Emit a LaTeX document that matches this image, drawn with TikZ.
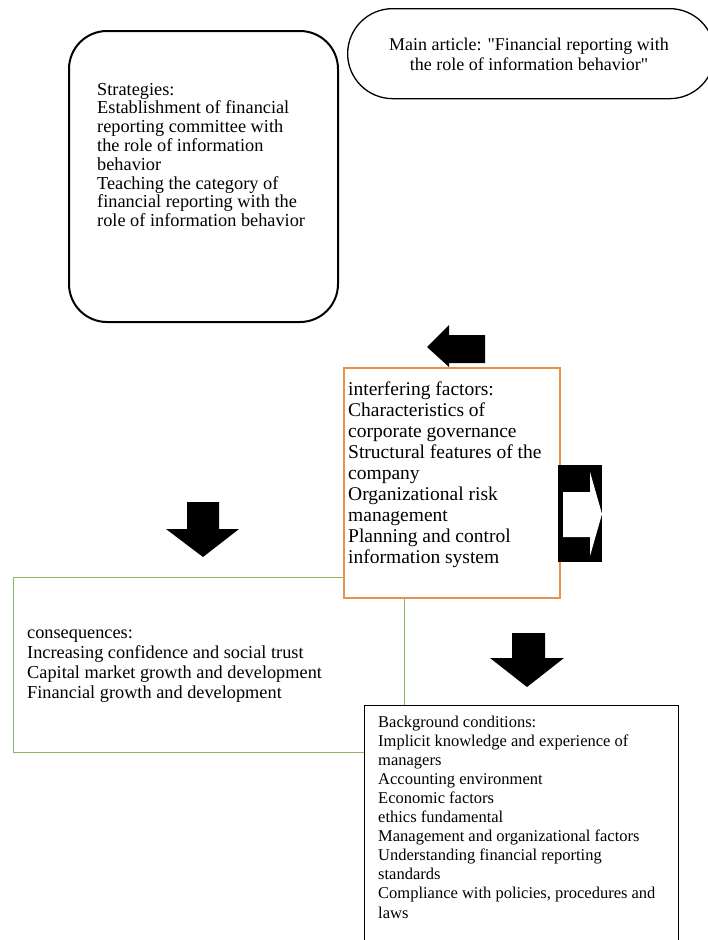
\documentclass[tikz,border=0pt]{standalone}
\usepackage{fontspec}
\setmainfont{Liberation Serif}[Ligatures=TeXOff]
\definecolor{boxorange}{RGB}{232,146,72}
\definecolor{boxgreen}{RGB}{140,180,95}
\tikzset{
  frame/.style={draw, fill=white, inner sep=0pt, anchor=north west},
  txt/.style={inner sep=0pt, align=left, anchor=base west},
  blockarrow/.style={fill=black, draw=none},
}
\begin{document}
\begin{tikzpicture}[x=1pt,y=-1pt]
\useasboundingbox (0,0) rectangle (708,940);
\clip (0,0) rectangle (708,940);
% main article
\node[frame, line width=1.3pt, rounded corners=45pt, minimum width=367pt, minimum height=90pt] (main) at (347,8) {};
\node[inner sep=0pt, align=center, anchor=base, font=\fontsize{18}{20}\selectfont] (maintext) at (529,70)
  {Main article: "Financial reporting with\\the role of information behavior"};
% strategies
\node[frame, line width=2pt, rounded corners=38pt, minimum width=269pt, minimum height=291pt] (strat) at (68,30) {};
\node[txt, font=\fontsize{18.3}{18.8}\selectfont] (strattext) at (97,226.6)
  {Strategies:\\Establishment of financial\\reporting committee with\\the role of information\\behavior\\Teaching the category of\\financial reporting with the\\role of information behavior};
% consequences (drawn first, others overlap it)
\node[frame, draw=boxgreen, line width=1.3pt, minimum width=391pt, minimum height=175pt] (cons) at (13,577) {};
\node[txt, font=\fontsize{18.3}{20}\selectfont] (constext) at (27,698)
  {consequences:\\Increasing confidence and social trust\\Capital market growth and development\\Financial growth and development};
% interfering factors
\node[frame, draw=boxorange, line width=2pt, minimum width=216pt, minimum height=230pt] (inter) at (343,367) {};
\node[txt, font=\fontsize{19.5}{21}\selectfont] (intertext) at (348,563)
  {interfering factors:\\Characteristics of\\corporate governance\\Structural features of the\\company\\Organizational risk\\management\\Planning and control\\information system};
% background conditions
\node[frame, line width=1.3pt, minimum width=314pt, minimum height=245pt] (back) at (364,705) {};
\node[txt, font=\fontsize{16.5}{19.1}\selectfont] (backtext) at (378,918)
  {Background conditions:\\Implicit knowledge and experience of\\managers\\Accounting environment\\Economic factors\\ethics fundamental\\Management and organizational factors\\Understanding financial reporting\\standards\\Compliance with policies, procedures and\\laws};
% block arrows
\fill[blockarrow] (427,347) -- (449,325) -- (449,335) -- (485,335) -- (485,363) -- (449,363) -- (449,367) -- cycle;
\fill[blockarrow] (187,502) -- (219,502) -- (219,529) -- (239,529) -- (203,557) -- (166,529) -- (187,529) -- cycle;
\fill[blockarrow] (512,633) -- (545,633) -- (545,658) -- (564,658) -- (527,687) -- (490,658) -- (512,658) -- cycle;
\fill[black] (558,465) rectangle (602,562);
\fill[white] (563,492) -- (590,492) -- (590,472) -- (602,514) -- (590,556) -- (590,537) -- (563,537) -- cycle;
\end{tikzpicture}
\end{document}
